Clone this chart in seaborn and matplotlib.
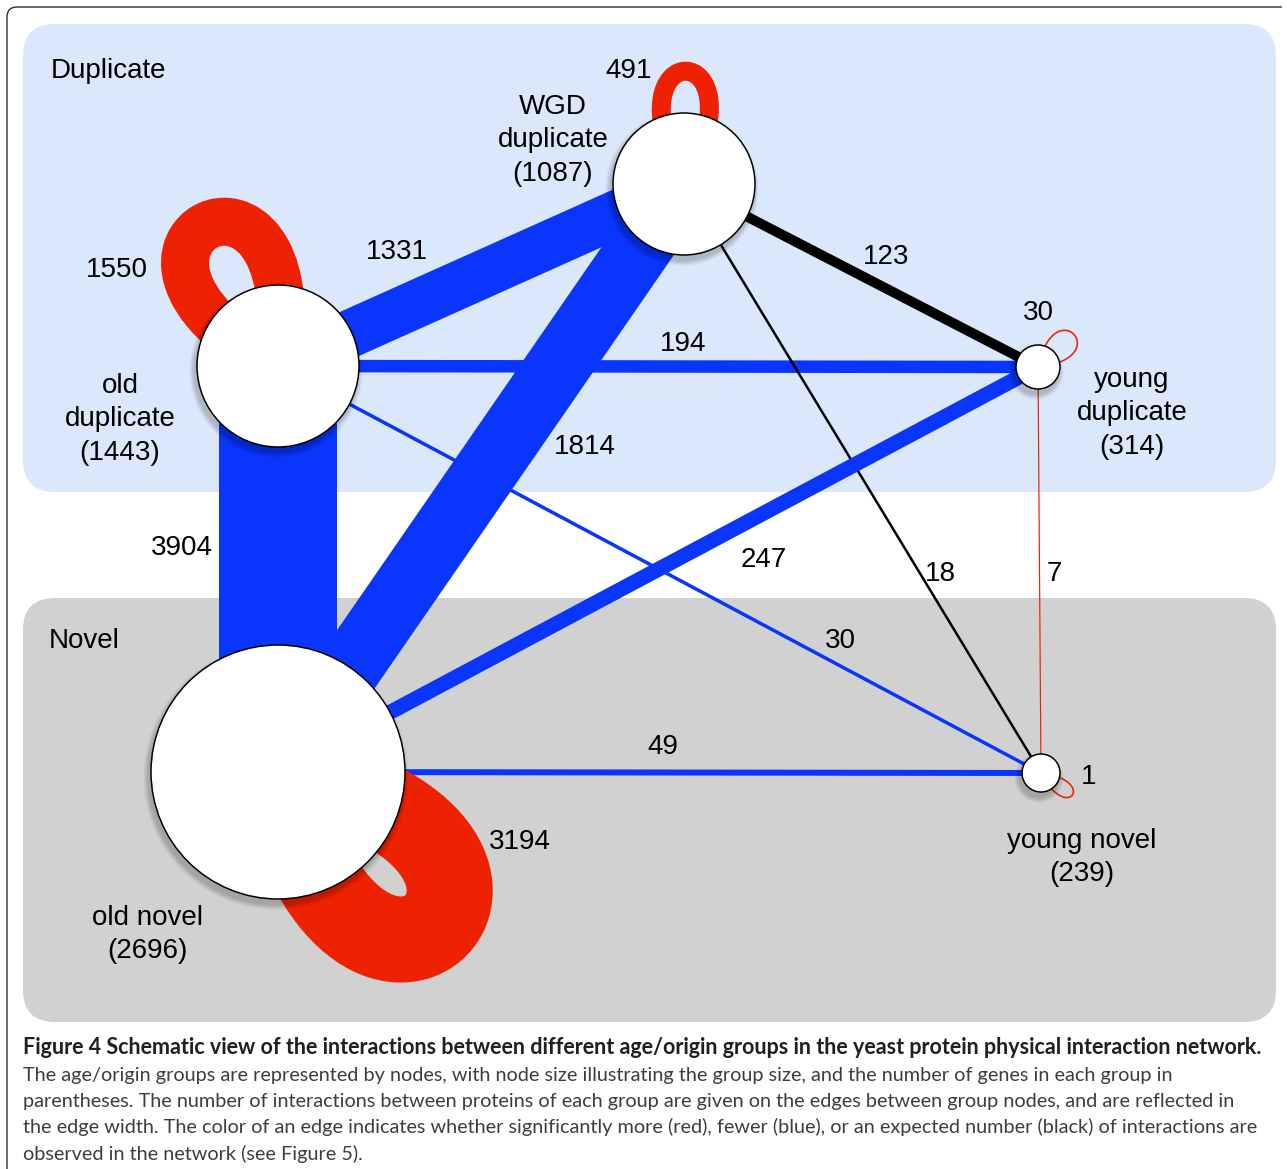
import matplotlib
matplotlib.use("Agg")
import matplotlib.pyplot as plt
from matplotlib.patches import Circle, FancyBboxPatch, PathPatch
from matplotlib.path import Path
import numpy as np
import pandas as pd
import seaborn as sns

# ---- data -------------------------------------------------------------
groups = ["old duplicate", "WGD duplicate", "young duplicate", "old novel", "young novel"]
group_sizes = [1443, 1087, 314, 2696, 239]
group_labels = ["old\nduplicate", "WGD\nduplicate", "young\nduplicate", "old novel", "young novel"]

edge_src = ["old duplicate", "old duplicate", "WGD duplicate", "old duplicate", "old duplicate",
            "WGD duplicate", "old novel", "old novel", "WGD duplicate", "young duplicate"]
edge_dst = ["old novel", "WGD duplicate", "old novel", "young novel", "young duplicate",
            "young novel", "young novel", "young duplicate", "young duplicate", "young novel"]
edge_counts = [3904, 1331, 1814, 30, 194, 18, 49, 247, 123, 7]
edge_kind = ["fewer", "fewer", "fewer", "fewer", "fewer",
             "expected", "fewer", "fewer", "expected", "more"]

self_counts = [1550, 491, 30, 3194, 1]
self_kind = ["more", "more", "more", "more", "more"]

caption_bold = ("Figure 4 Schematic view of the interactions between different age/origin "
                "groups in the yeast protein physical interaction network.")
caption_lines = [
    "The age/origin groups are represented by nodes, with node size illustrating the group size, "
    "and the number of genes in each group in",
    "parentheses. The number of interactions between proteins of each group are given on the edges "
    "between group nodes, and are reflected in",
    "the edge width. The color of an edge indicates whether significantly more (red), fewer (blue), "
    "or an expected number (black) of interactions are",
    "observed in the network (see Figure 5).",
]

# ---- layout / style (pixel units) --------------------------------------
W, H = 1287, 1169
kind_color = {"more": "#ee2200", "fewer": "#0a35fd", "expected": "#000000"}

node_xy = {"old duplicate": (278, 366), "WGD duplicate": (684, 184), "young duplicate": (1038, 367),
           "old novel": (278, 772), "young novel": (1041, 773)}
node_r = {"old duplicate": 81, "WGD duplicate": 71, "young duplicate": 22,
          "old novel": 127, "young novel": 19}
# edge widths in px, in the order of edge_counts
edge_px = [118, 48, 64, 3.5, 12.5, 2.5, 6, 15, 10, 1.2]
edge_label_xy = [(182, 555), (397, 259), (585, 454), (840, 648), (683, 351),
                 (940, 581), (663, 754), (764, 567), (886, 264), (1054, 581)]
# loops: angle (deg, image coords), control length, spread (deg), width px
loop_geom = {"old duplicate": (-117, 256, 35, 48), "WGD duplicate": (-89, 172, 29, 19),
             "young duplicate": (-42, 80, 36, 1.6), "old novel": (44, 350, 33, 86),
             "young novel": (35, 58, 28, 1.6)}
loop_label_xy = [(117, 277), (629, 78), (1038, 320), (520, 849), (1089, 784)]
label_xy = {"old duplicate": (120, 393), "WGD duplicate": (553, 114), "young duplicate": (1132, 387),
            "old novel": (147, 925), "young novel": (1082, 848)}

PT = 0.72  # px -> pt at 100 dpi
CHART_FONT = ["Liberation Sans", "DejaVu Sans"]

sns.set_theme(style="white")
plt.rcParams["font.family"] = CHART_FONT
plt.rcParams["text.color"] = "black"

fig = plt.figure(figsize=(W / 100, H / 100), dpi=100)
ax = fig.add_axes([0, 0, 1, 1])
ax.set_xlim(0, W)
ax.set_ylim(H, 0)
ax.axis("off")


def label(x, y, s, **kw):
    kw.setdefault("ha", "center")
    ax.text(x, y, s, fontsize=20, va="baseline", color="black", family=CHART_FONT,
            zorder=5, **kw)


# frame
frame = Path([(7, H), (7, 17), (7, 7), (17, 7), (1282, 7)],
             [Path.MOVETO, Path.LINETO, Path.CURVE3, Path.CURVE3, Path.LINETO])
ax.add_patch(PathPatch(frame, fill=False, lw=1.3 * PT, color="#222222", zorder=0))

# group panels
ax.add_patch(FancyBboxPatch((23, 24), 1253, 468, boxstyle="round,pad=0,rounding_size=32",
                            fc="#dbe8fb", ec="none", zorder=0))
ax.add_patch(FancyBboxPatch((23, 598), 1253, 424, boxstyle="round,pad=0,rounding_size=32",
                            fc="#d1d1d1", ec="none", zorder=0))
label(51, 78, "Duplicate", ha="left")
label(49, 648, "Novel", ha="left")

# edges between groups
names = [f"{s}|{d}" for s, d in zip(edge_src, edge_dst)]
rows = []
for n, s, d in zip(names, edge_src, edge_dst):
    for k, g in enumerate((s, d)):
        rows.append({"edge": n, "step": k, "x": node_xy[g][0], "y": node_xy[g][1]})
edges = pd.DataFrame(rows)
sns.lineplot(data=edges, x="x", y="y", hue="edge", size="edge", hue_order=names,
             palette={n: kind_color[k] for n, k in zip(names, edge_kind)},
             sizes={n: w * PT for n, w in zip(names, edge_px)},
             estimator=None, sort=False, legend=False, ax=ax, zorder=1)
for line in ax.lines:
    line.set_solid_capstyle("butt")
ax.set_xlim(0, W)
ax.set_ylim(H, 0)
ax.set_xlabel("")
ax.set_ylabel("")

for (x, y), c in zip(edge_label_xy, edge_counts):
    label(x, y, str(c))

# self loops
for g, c, k, (lx, ly) in zip(groups, self_counts, self_kind, loop_label_xy):
    a, L, sp, w = loop_geom[g]
    cx, cy = node_xy[g]
    a1, a2 = np.radians(a - sp), np.radians(a + sp)
    verts = [(cx, cy), (cx + L * np.cos(a1), cy + L * np.sin(a1)),
             (cx + L * np.cos(a2), cy + L * np.sin(a2)), (cx, cy)]
    p = Path(verts, [Path.MOVETO, Path.CURVE4, Path.CURVE4, Path.CURVE4])
    ax.add_patch(PathPatch(p, fill=False, lw=w * PT, color=kind_color[k],
                           capstyle="butt", joinstyle="round", zorder=1.5))
    label(lx, ly, str(c))

# nodes with soft shadow
for g, size, lab in zip(groups, group_sizes, group_labels):
    cx, cy = node_xy[g]
    r = node_r[g]
    for i in range(7, 0, -1):
        ax.add_patch(Circle((cx - 2, cy + 5), r + i * 0.8, fc="black", ec="none",
                            alpha=0.03, zorder=2.5))
    ax.add_patch(Circle((cx, cy), r, fc="white", ec="black", lw=1.5 * PT, zorder=3))
    tx, ty = label_xy[g]
    for j, part in enumerate((lab + f"\n({size})").split("\n")):
        label(tx, ty + j * 33.3, part)

# caption
r = fig.canvas.get_renderer()
tb = ax.text(23, 1054, caption_bold, fontsize=14, fontweight="bold", color="#231f20",
             family=["Lato", "DejaVu Sans"], ha="left", va="baseline")
tb.set_fontsize(14 * 1249 / tb.get_window_extent(r).width)
texts = []
for j, s in enumerate(caption_lines):
    texts.append(ax.text(23, 1080.5 + j * 26.5, s, fontsize=14, color="#3d3d3d",
                         family=["Lato", "DejaVu Sans"], ha="left", va="baseline"))
fs = 14 * 1243 / texts[2].get_window_extent(r).width
for t in texts:
    t.set_fontsize(fs)

fig.savefig("out.png", dpi=100)
